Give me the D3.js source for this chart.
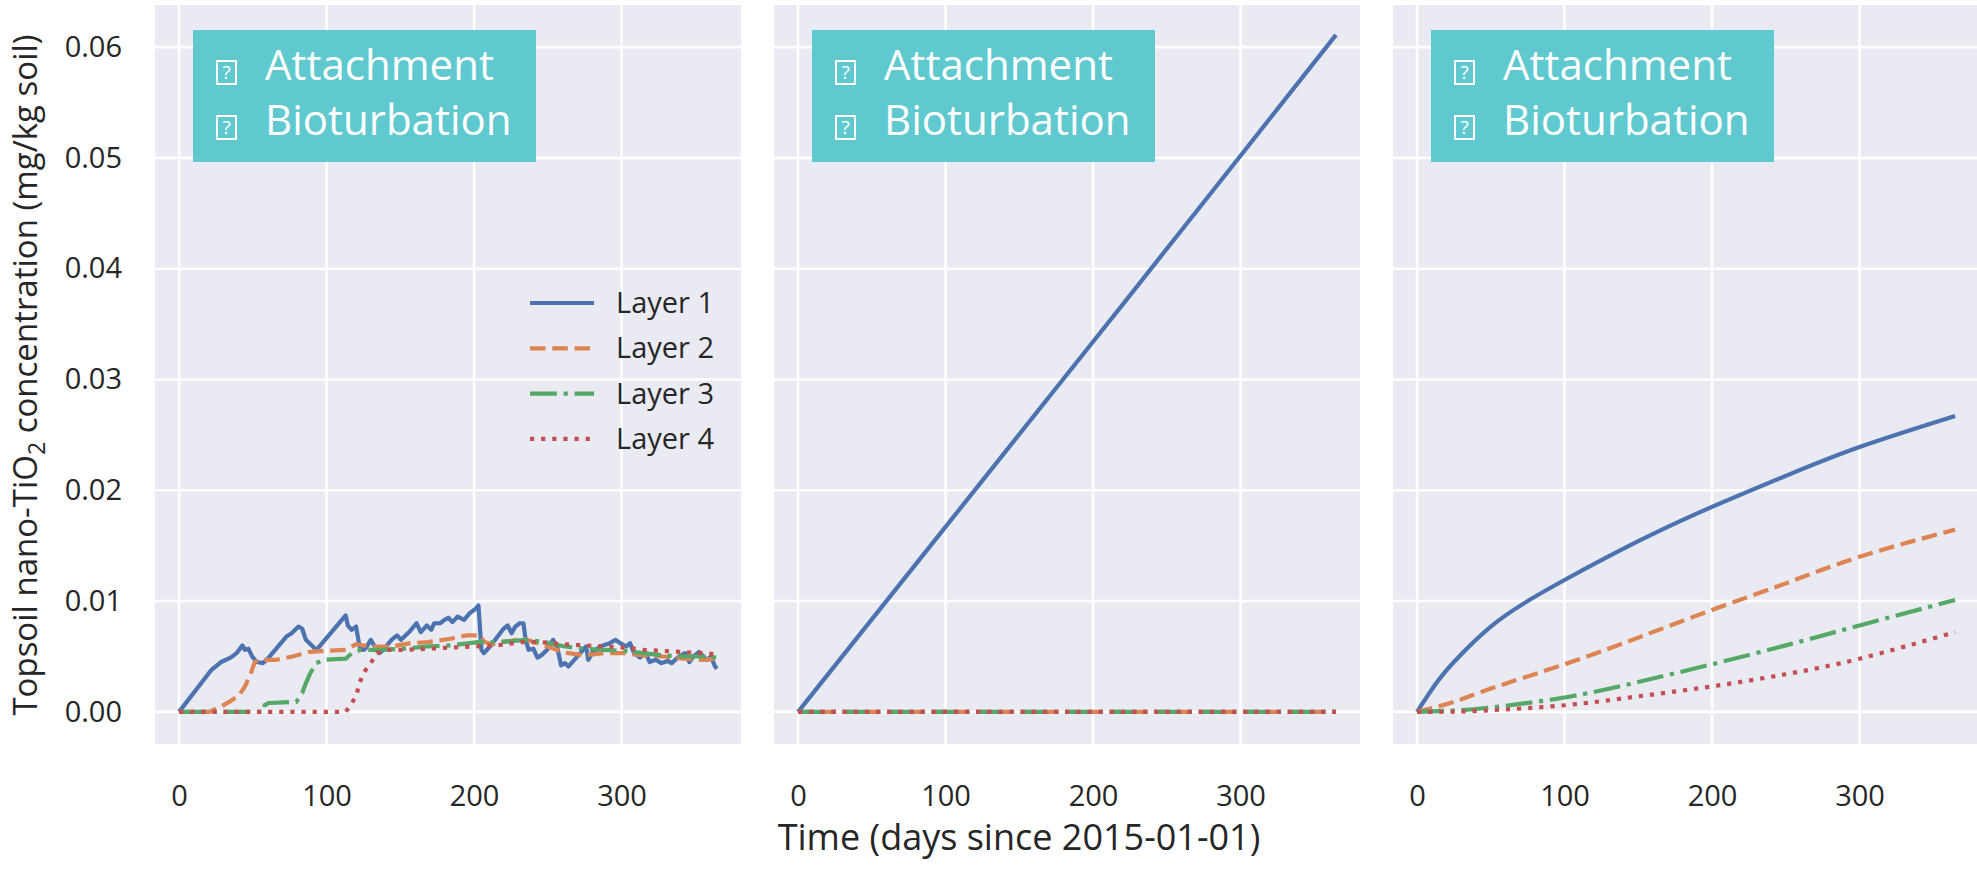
<!DOCTYPE html>
<html>
<head>
<meta charset="utf-8">
<script src="https://cdn.jsdelivr.net/npm/d3@7"></script>
<style>
  body { margin: 0; background: #fff; }
  svg text { font-family: "Open Sans", sans-serif; }
</style>
</head>
<body>
<svg id="chart" width="1977" height="869"></svg>
<script>
// tick values
const xTicks = [0, 100, 200, 300];
const yTicks = [0, 0.01, 0.02, 0.03, 0.04, 0.05, 0.06];

const layerNames = ["Layer 1", "Layer 2", "Layer 3", "Layer 4"];
const layerColors = ["#4C72B0", "#DD8452", "#55A868", "#C44E52"];

// panel 1, [day, concentration]
const p1Layer1 = [[0,0],[22,0.0038],[28.6,0.0045],[35,0.0049],[39,0.0053],[42.9,0.006],[44.7,0.0056],[47,0.0057],[49.5,0.005],[52.8,0.0045],[56.8,0.0044],[59.5,0.0047],[72.8,0.0068],[76.3,0.0071],[81,0.0077],[83.5,0.0075],[86,0.0065],[93,0.0056],[94.5,0.0058],[113,0.0087],[114.4,0.0078],[117,0.0074],[120,0.0077],[122.4,0.0059],[125,0.0056],[126.4,0.0057],[130,0.0065],[132.7,0.0059],[135.8,0.0053],[138.5,0.0056],[144,0.0065],[147.8,0.0069],[150.5,0.0065],[156,0.0072],[161,0.008],[163.9,0.0072],[168,0.0078],[171,0.0074],[173,0.008],[177,0.008],[180,0.0083],[182.6,0.0085],[185.3,0.0081],[189,0.0086],[193.3,0.0083],[197,0.0089],[201,0.0093],[203,0.0096],[205,0.0056],[206.7,0.0053],[210.8,0.0059],[216,0.0068],[220,0.0075],[222.8,0.0078],[225.5,0.0071],[228,0.0077],[230.9,0.008],[233.5,0.008],[235,0.0065],[237,0.0056],[240.2,0.0057],[243,0.0049],[245.6,0.0051],[249.6,0.0056],[253.6,0.0065],[256.3,0.0059],[259,0.0042],[261.6,0.0044],[264,0.0041],[268,0.0047],[272,0.0053],[276,0.0059],[277.4,0.0047],[280.1,0.0053],[285.4,0.0059],[292,0.0062],[296,0.0065],[299.2,0.0062],[303.2,0.0059],[305.8,0.0062],[308.5,0.0053],[312.5,0.0049],[316.5,0.0053],[319,0.0045],[323.2,0.0047],[327,0.0044],[331.3,0.0046],[334,0.0044],[339,0.005],[343,0.0053],[346,0.0045],[348.7,0.005],[352.7,0.0054],[355.4,0.005],[358,0.0047],[360.7,0.0050],[363.4,0.0041],[364.7,0.0039]];
const p1Layer2 = [[0,0],[20.6,0],[28.7,0.0005],[34,0.0009],[40.7,0.0015],[44.7,0.0023],[48.7,0.0035],[51.4,0.0045],[55.4,0.0047],[66,0.0047],[77,0.005],[87.6,0.0054],[98,0.0055],[113,0.0056],[120,0.0061],[130,0.0059],[144,0.0059],[157,0.0062],[169,0.0063],[184,0.0066],[195,0.0069],[204,0.0069],[207,0.0063],[213,0.0061],[224,0.0064],[233.5,0.0066],[245.6,0.0061],[256,0.0056],[264,0.0053],[275,0.0051],[288,0.0053],[302,0.0053],[315,0.0051],[328.6,0.005],[342,0.0048],[355,0.0047],[364.7,0.0048]];
const p1Layer3 = [[0,0],[57,0],[58,0.0006],[60.8,0.0008],[79.5,0.0009],[83.5,0.0017],[86,0.0026],[89,0.0035],[93,0.0044],[98,0.0047],[113,0.0048],[118,0.0054],[123.7,0.0056],[135.8,0.0056],[151.8,0.0057],[168,0.0059],[184,0.006],[202.7,0.0063],[213,0.0063],[227,0.0064],[235,0.0065],[248,0.0063],[261.6,0.0059],[275,0.0057],[288,0.0056],[302,0.0055],[315,0.0053],[328.6,0.0051],[342,0.005],[355,0.005],[364.7,0.0049]];
const p1Layer4 = [[0,0],[113,0],[115.7,0.0005],[120,0.0014],[122.4,0.0026],[125,0.0035],[130,0.0044],[134,0.0053],[141,0.0056],[154.5,0.0056],[168,0.0057],[184,0.0058],[200,0.0059],[216,0.006],[232,0.0063],[245.6,0.0063],[259,0.0061],[275,0.006],[288,0.0059],[302,0.0058],[315,0.0056],[328.6,0.0055],[342,0.0054],[355,0.0053],[364.7,0.0052]];

// panel 2
const p2Layer1 = [[0,0],[100,0.0167],[200,0.0334],[300,0.0502],[364.7,0.0611]];
const p2Layer2 = [[0,0],[364.7,0]];
const p2Layer3 = [[0,0],[364.7,0]];
const p2Layer4 = [[0,0],[364.7,0]];

// panel 3
const p3Layer1 = [[0,0],[12,0.0024],[25,0.0045],[50,0.0077],[75,0.01],[100,0.0119],[150,0.0154],[200,0.0185],[250,0.0213],[300,0.0239],[364.8,0.0267]];
const p3Layer2 = [[0,0],[25,0.0009],[50,0.0021],[100,0.0043],[150,0.0067],[200,0.0092],[250,0.0116],[300,0.014],[364.8,0.01645]];
const p3Layer3 = [[0,0],[25,0.00012],[50,0.0004],[100,0.0013],[150,0.0027],[200,0.0043],[250,0.006],[300,0.0078],[364.8,0.0101]];
const p3Layer4 = [[0,0],[25,0.00002],[50,0.00015],[100,0.0006],[150,0.0014],[200,0.0023],[250,0.0034],[300,0.0048],[364.8,0.0072]];

const panels = [
    [p1Layer1, p1Layer2, p1Layer3, p1Layer4],
    [p2Layer1, p2Layer2, p2Layer3, p2Layer4],
    [p3Layer1, p3Layer2, p3Layer3, p3Layer4]
];
const boxLines = ["Attachment", "Bioturbation"];

const svg = d3.select("#chart");
const panelLeft = [155, 774, 1393];
const panelWidth = 586;
const plotTop = 5, plotBottom = 744;
const lineWidth = 4.2;
const dashes = [null, [3.7, 1.6], [6.4, 1.6, 1, 1.6], [1, 1.65]]
    .map(d => d ? d.map(v => v * lineWidth).join(",") : null);

const x = d3.scaleLinear().domain([-16.3, 381]).range([0, panelWidth]);
const y = d3.scaleLinear().domain([-0.0029, 0.0638]).range([plotBottom, plotTop]);

// panel 1 keeps straight segments; the smooth ones get a curve
const lineRough = d3.line().x(d => x(d[0])).y(d => y(d[1]));
const lineSmooth = d3.line().x(d => x(d[0])).y(d => y(d[1])).curve(d3.curveNatural);

panels.forEach((layers, i) => {
    const g = svg.append("g").attr("transform", `translate(${panelLeft[i]},0)`);

    g.append("rect")
        .attr("x", 0).attr("y", plotTop)
        .attr("width", panelWidth).attr("height", plotBottom - plotTop)
        .attr("fill", "#EAEAF2");

    // grid
    g.selectAll(".vgrid").data(xTicks).enter().append("line")
        .attr("x1", d => x(d)).attr("x2", d => x(d))
        .attr("y1", plotTop).attr("y2", plotBottom)
        .attr("stroke", "#fff").attr("stroke-width", 2.6);
    g.selectAll(".hgrid").data(yTicks).enter().append("line")
        .attr("x1", 0).attr("x2", panelWidth)
        .attr("y1", d => y(d)).attr("y2", d => y(d))
        .attr("stroke", "#fff").attr("stroke-width", 2.6);

    // x tick labels
    const xAxis = g.append("g").attr("transform", `translate(0,${plotBottom})`)
        .call(d3.axisBottom(x).tickValues(xTicks).tickSize(0).tickPadding(41));
    xAxis.select(".domain").remove();
    xAxis.selectAll("text").attr("font-size", 29).attr("fill", "#262626")
        .style("font-family", "Open Sans");

    if (i === 0) {
        const yAxis = g.append("g")
            .call(d3.axisLeft(y).tickValues(yTicks).tickFormat(d3.format(".2f")).tickSize(0).tickPadding(33));
        yAxis.select(".domain").remove();
        yAxis.selectAll("text").attr("font-size", 29).attr("fill", "#262626")
            .style("font-family", "Open Sans");
    }

    layers.forEach((pts, j) => {
        g.append("path")
            .datum(pts)
            .attr("d", i === 0 ? lineRough : lineSmooth)
            .attr("fill", "none")
            .attr("stroke", layerColors[j])
            .attr("stroke-width", lineWidth)
            .attr("stroke-dasharray", dashes[j])
            .attr("stroke-linejoin", "round");
    });

    // text box
    const box = g.append("g").attr("transform", "translate(38,30)");
    box.append("rect")
        .attr("width", 343).attr("height", 132)
        .attr("fill", "#5FC9CF");
    boxLines.forEach((t, k) => {
        const base = 50 + k * 55;
        box.append("rect")
            .attr("x", 24).attr("y", base - 19)
            .attr("width", 19).attr("height", 23)
            .attr("fill", "none").attr("stroke", "#fff").attr("stroke-width", 2);
        box.append("text")
            .attr("x", 33.5).attr("y", base - 1)
            .attr("text-anchor", "middle")
            .attr("font-size", 19).attr("fill", "#fff")
            .text("?");
        box.append("text")
            .attr("x", 72).attr("y", base)
            .attr("font-size", 42).attr("fill", "#fff")
            .text(t);
    });

    // legend only in first panel
    if (i === 0) {
        layerNames.forEach((name, j) => {
            const ly = 303 + j * 45.3;
            g.append("line")
                .attr("x1", 375).attr("x2", 439)
                .attr("y1", ly).attr("y2", ly)
                .attr("stroke", layerColors[j])
                .attr("stroke-width", lineWidth)
                .attr("stroke-dasharray", dashes[j]);
            g.append("text")
                .attr("x", 461).attr("y", ly + 10)
                .attr("font-size", 29).attr("fill", "#262626")
                .text(name);
        });
    }
});

// axis labels
svg.append("text")
    .attr("x", 1019).attr("y", 850)
    .attr("text-anchor", "middle")
    .attr("font-size", 36).attr("fill", "#262626")
    .text("Time (days since 2015-01-01)");

const yl = svg.append("text")
    .attr("transform", "translate(37,375) rotate(-90)")
    .attr("text-anchor", "middle")
    .attr("font-size", 33).attr("fill", "#262626");
yl.append("tspan").text("Topsoil nano-TiO");
yl.append("tspan").attr("font-size", 23).attr("dy", 8).text("2");
yl.append("tspan").attr("dy", -8).text(" concentration (mg/kg soil)");
</script>
</body>
</html>
